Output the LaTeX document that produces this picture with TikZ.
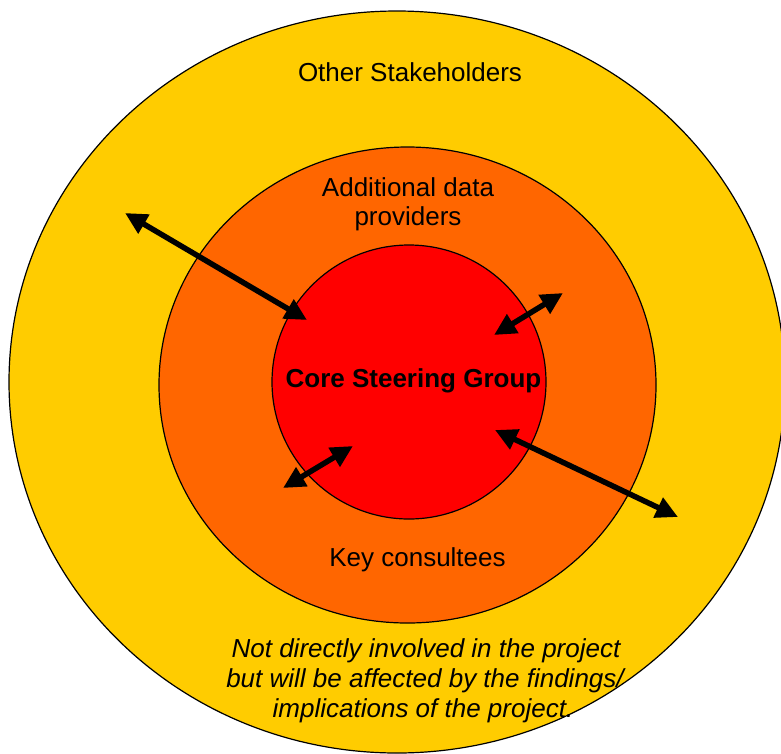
\documentclass[tikz,border=0pt]{standalone}
\usepackage{fontspec}
\setmainfont{Liberation Sans}
\usetikzlibrary{arrows.meta,shapes.geometric}
\definecolor{ringY}{HTML}{FFCC00}
\definecolor{ringO}{HTML}{FF6600}
\definecolor{ringR}{HTML}{FF0000}
\begin{document}
\begin{tikzpicture}[x=1pt,y=-1pt,
  ring/.style={draw=black, line width=1.2pt, inner sep=0pt, outer sep=0pt},
  lbl/.style={font=\fontsize{26pt}{30pt}\selectfont, inner sep=0pt, anchor=base},
  dbl/.style={line width=5.5pt, {Triangle[length=22pt,width=21pt]}-{Triangle[length=22pt,width=21pt]}}
]
\useasboundingbox (0,0) rectangle (781,753);
\clip (0,0) rectangle (781,753);
\node[ring, ellipse, fill=ringY, minimum width=776pt, minimum height=742pt] (outer) at (397,382) {};
\node[ring, ellipse, fill=ringO, minimum width=497pt, minimum height=476pt] (middle) at (407.5,385) {};
\node[ring, circle, fill=ringR, minimum size=274pt] (inner) at (409,382) {};

\coordinate (a1) at (125,213); \coordinate (b1) at (307,320);
\coordinate (a2) at (494,335); \coordinate (b2) at (563,293);
\coordinate (a3) at (283,488); \coordinate (b3) at (353,446);
\coordinate (a4) at (495,430); \coordinate (b4) at (678,517);
\draw[dbl] (a1) -- (b1);
\draw[dbl] (a2) -- (b2);
\draw[dbl] (a3) -- (b3);
\draw[dbl] (a4) -- (b4);

\node[lbl] (stake) at (410,81) {Other Stakeholders};
\node[lbl] (add1) at (408,196) {Additional data};
\node[lbl] (add2) at (408,225) {providers};
\node[lbl, font=\fontsize{26pt}{30pt}\selectfont\bfseries] (core) at (413.5,387) {Core Steering Group};
\node[lbl] (key) at (417.5,566) {Key consultees};
\node[lbl, font=\fontsize{26pt}{30pt}\selectfont\itshape] (note1) at (426,657) {Not directly involved in the project};
\node[lbl, font=\fontsize{26pt}{30pt}\selectfont\itshape] (note2) at (425,687) {but will be affected by the findings/};
\node[lbl, font=\fontsize{26pt}{30pt}\selectfont\itshape] (note3) at (423,717) {implications of the project.};
\end{tikzpicture}
\end{document}
